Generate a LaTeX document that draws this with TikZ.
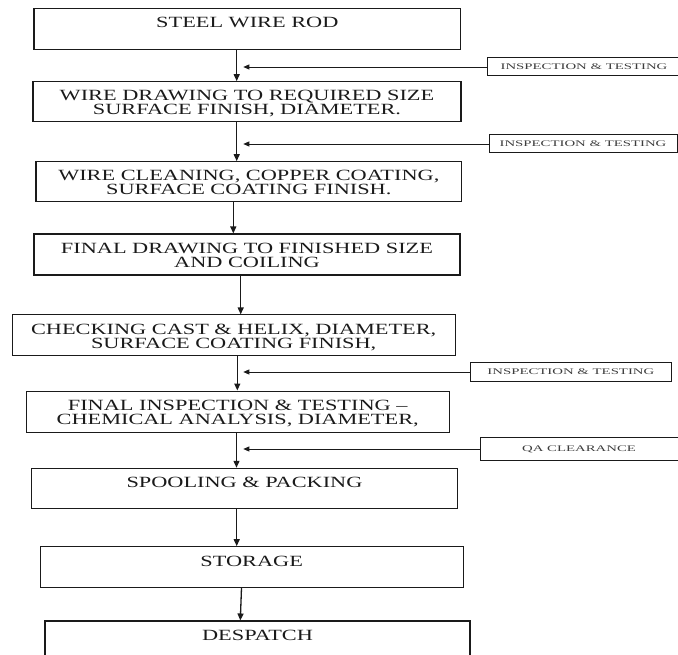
\documentclass[tikz,border=0pt]{standalone}
\usepackage{fontspec}
\setmainfont{Liberation Serif}[FakeStretch=1.43]
\newfontfamily\tagfont{Liberation Serif}[FakeStretch=1.72]
\usepackage{tikz}
\usetikzlibrary{arrows.meta}
\definecolor{flowInk}{HTML}{1A1A1A}

\begin{document}
\begin{tikzpicture}[x=1pt, y=-1pt,
  box/.style={draw=flowInk, line width=1.1pt, inner sep=0pt, align=center, text=flowInk,
    font=\fontsize{15.6}{13.6}\selectfont},
  oneline/.style={box, text height=12pt, text depth=13.6pt},
  twoline/.style={box, text height=25.6pt, text depth=0pt},
  tag/.style={draw=flowInk, line width=1pt, inner sep=0pt, text=flowInk!85,
    font=\tagfont\fontsize{8.6}{10}\selectfont},
  arr/.style={-{Triangle[length=7pt, width=6pt]}, line width=1.3pt, draw=flowInk},
  harr/.style={-{Triangle[length=6pt, width=5pt]}, line width=0.9pt, draw=flowInk}
]
\useasboundingbox (0,0) rectangle (678,655);

\node[oneline, minimum width=426.7pt, minimum height=41pt] (b1) at (247.3,28.8) {STEEL WIRE ROD};
\node[twoline, minimum width=428pt, minimum height=40pt] (b2) at (247,101.7) {WIRE DRAWING TO REQUIRED SIZE\\SURFACE FINISH, DIAMETER.};
\node[twoline, minimum width=425.7pt, minimum height=40pt] (b3) at (248.8,181.7) {WIRE CLEANING, COPPER COATING,\\SURFACE COATING FINISH.};
\node[twoline, minimum width=426pt, minimum height=41pt] (b4) at (247,254.5) {FINAL DRAWING TO FINISHED SIZE\\AND COILING};
\node[twoline, minimum width=442.7pt, minimum height=40.7pt] (b5) at (233.7,335.3) {CHECKING CAST \& HELIX, DIAMETER,\\SURFACE COATING FINISH,};
\node[twoline, minimum width=423.3pt, minimum height=41.3pt] (b6) at (237.7,411.7) {FINAL INSPECTION \& TESTING --\\CHEMICAL ANALYSIS, DIAMETER,};
\node[oneline, minimum width=425.6pt, minimum height=40pt] (b7) at (244.5,488.3) {SPOOLING \& PACKING};
\node[oneline, minimum width=423.3pt, minimum height=40.6pt] (b8) at (251.7,567) {STORAGE};
\node[oneline, minimum width=425pt, minimum height=40pt] (b9) at (257.5,641) {DESPATCH};

\node[tag, minimum width=194pt, minimum height=18pt] (t1) at (584,67) {INSPECTION \& TESTING};
\node[tag, minimum width=188pt, minimum height=18pt] (t2) at (583,144) {INSPECTION \& TESTING};
\node[tag, minimum width=200.3pt, minimum height=18.3pt] (t3) at (570.9,372) {INSPECTION \& TESTING};
\node[tag, minimum width=198pt, minimum height=23pt] (qa) at (579,449) {QA CLEARANCE};

\draw[arr] (236.7,0 |- b1.south) -- (236.7,0 |- b2.north);
\draw[arr] (236.7,0 |- b2.south) -- (236.7,0 |- b3.north);
\draw[arr] (233.3,0 |- b3.south) -- (233.3,0 |- b4.north);
\draw[arr] (240.7,0 |- b4.south) -- (240.7,0 |- b5.north);
\draw[arr] (237.3,0 |- b5.south) -- (237.3,0 |- b6.north);
\draw[arr] (236.5,0 |- b6.south) -- (236.5,0 |- b7.north);
\draw[arr] (236.7,0 |- b7.south) -- (236.7,0 |- b8.north);
\draw[arr] (241.5,0 |- b8.south) -- (240.3,0 |- b9.north);

\draw[harr] (t1.west) -- (243.3,0 |- t1.west);
\draw[harr] (t2.west) -- (243.3,0 |- t2.west);
\draw[harr] (t3.west) -- (243.3,0 |- t3.west);
\draw[harr] (qa.west) -- (243.3,0 |- qa.west);
\end{tikzpicture}
\end{document}
